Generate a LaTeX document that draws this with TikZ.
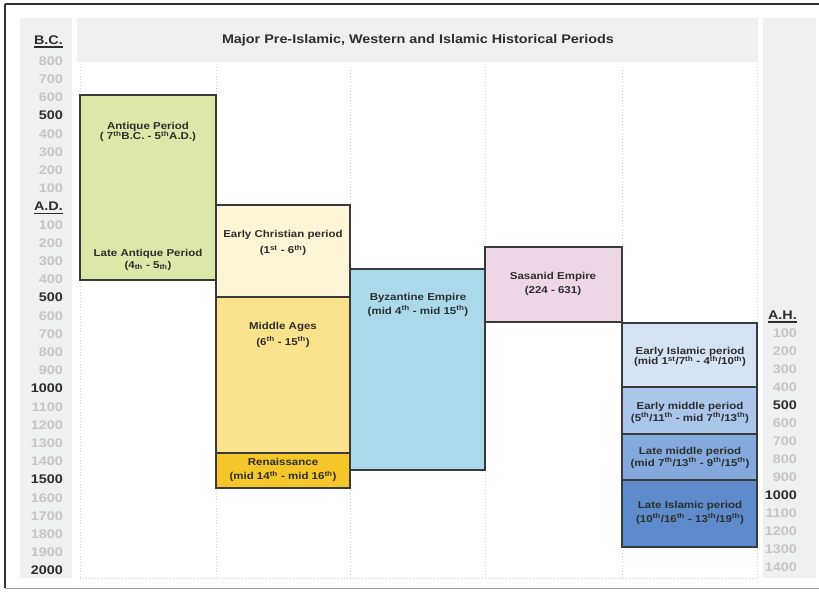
\documentclass[tikz,border=0pt]{standalone}
\usepackage{fontspec}
\setmainfont{Liberation Sans}[FakeStretch=1.15]
\definecolor{framedark}{HTML}{333333}
\definecolor{framegray}{HTML}{9A9A9A}
\definecolor{panel}{HTML}{EEF0F2}
\definecolor{guidegray}{HTML}{D2D2D2}
\definecolor{boxline}{HTML}{3A3A3A}
\definecolor{textdark}{HTML}{2E2E2E}
\definecolor{yeargray}{HTML}{C8C4C4}
\definecolor{antique}{HTML}{DCE8A8}
\definecolor{earlychr}{HTML}{FDF5D5}
\definecolor{middleage}{HTML}{FAE38C}
\definecolor{renais}{HTML}{F4C629}
\definecolor{byzant}{HTML}{AADAEA}
\definecolor{sasanid}{HTML}{EDD6E6}
\definecolor{earlyisl}{HTML}{D5E3F3}
\definecolor{earlymid}{HTML}{AAC6EA}
\definecolor{latemid}{HTML}{84A9DC}
\definecolor{lateisl}{HTML}{5E8BCB}
\tikzset{
  period/.style={draw=boxline, line width=1.4pt},
  guide/.style={guidegray, line width=0.8pt, dash pattern=on 1pt off 2pt},
  plabel/.style={font=\bfseries\fontsize{10}{11.5}\selectfont, text=textdark, align=center, inner sep=0pt},
  yearlbl/.style={font=\bfseries\fontsize{12.5}{12.5}\selectfont, text=yeargray, inner sep=0pt},
  axishead/.style={font=\bfseries\fontsize{12.5}{12.5}\selectfont, text=textdark, inner sep=0pt},
  headrule/.style={textdark, line width=1.6pt},
  titletext/.style={font=\bfseries\fontsize{12.5}{14}\selectfont, text=textdark}
}
\begin{document}
\begin{tikzpicture}[x=1pt,y=-1pt]
\useasboundingbox (0,0) rectangle (819,595);
\fill[white] (0,0) rectangle (819,595);
% frame
\draw[framedark, line width=2pt] (5,4) -- (819,4);
\draw[framedark, line width=1.5pt] (5,4) -- (5,588);
\draw[framegray, line width=1pt] (5,588) -- (819,588);
% grey panels and title
\fill[panel] (20,18) rectangle (72,578);
\fill[panel] (763,18) rectangle (816,578);
\fill[panel] (77,18) rectangle (758,62);
\node[titletext] (title) at (418,40) {Major Pre-Islamic, Western and Islamic Historical Periods};
% dotted guides
\foreach \x in {80,216,350,485,622,757}
  \draw[guide] (\x,67) -- (\x,578);
\draw[guide] (80,578) -- (757,578);

% left scale
\node[axishead, anchor=east] (bc) at (63,40) {B.C.};
\draw[headrule] ([yshift=-2.5pt]bc.south west) -- ([yshift=-2.5pt]bc.south east);
\foreach \yr [count=\i from 0] in {800,700,...,100}
  \node[yearlbl, anchor=east] (bc\yr) at (63,{61+\i*18.2}) {\ifnum\yr=500 \color{textdark}\fi\yr};
\node[axishead, anchor=east] (ad) at (63,206.6) {A.D.};
\draw[headrule] ([yshift=-2.5pt]ad.south west) -- ([yshift=-2.5pt]ad.south east);
\foreach \yr [count=\i from 9] in {100,200,...,2000}
  \node[yearlbl, anchor=east] (ad\yr) at (63,{61+\i*18.2}) {\ifnum\numexpr\yr/500*500\relax=\yr \color{textdark}\fi\yr};

% right scale
\node[axishead, anchor=east] (ah) at (797,315) {A.H.};
\draw[headrule] ([yshift=-2.5pt]ah.south west) -- ([yshift=-2.5pt]ah.south east);
\foreach \yr [count=\i from 1] in {100,200,...,1400}
  \node[yearlbl, anchor=east] (ah\yr) at (797,{315+\i*18.0}) {\ifnum\numexpr\yr/500*500\relax=\yr \color{textdark}\fi\yr};

% pre-islamic and western periods
\draw[period, fill=antique] (80,95) rectangle (216,280);
\node[plabel] (antiq) at (148,132) {Antique Period\\[-1pt]( 7\textsuperscript{th}B.C. - 5\textsuperscript{th}A.D.)};
\node[plabel] (lateantiq) at (148,260) {Late Antique Period\\(4\textsubscript{th} - 5\textsubscript{th})};
\draw[period, fill=earlychr] (216,205) rectangle (350,297);
\node[plabel] (earlychris) at (283,243) {Early Christian period\\[5pt](1\textsuperscript{st} - 6\textsuperscript{th})};
\draw[period, fill=middleage] (216,297) rectangle (350,453);
\node[plabel] (midages) at (283,335) {Middle Ages\\[4pt](6\textsuperscript{th} - 15\textsuperscript{th})};
\draw[period, fill=renais] (216,453) rectangle (350,488);
\node[plabel] (renaiss) at (283,470) {Renaissance\\[3pt](mid 14\textsuperscript{th} - mid 16\textsuperscript{th})};
\draw[period, fill=byzant] (350,269) rectangle (485,470);
\node[plabel] (byzemp) at (418,305) {Byzantine Empire\\[2pt](mid 4\textsuperscript{th} - mid 15\textsuperscript{th})};
\draw[period, fill=sasanid] (485,247) rectangle (622,322);
\node[plabel] (sasemp) at (553,284) {Sasanid Empire\\[3pt](224 - 631)};

% islamic periods
\draw[period, fill=earlyisl] (622,323) rectangle (757,387);
\node[plabel] (earlyislam) at (690,357) {Early Islamic period\\[-1pt](mid 1\textsuperscript{st}/7\textsuperscript{th} - 4\textsuperscript{th}/10\textsuperscript{th})};
\draw[period, fill=earlymid] (622,387) rectangle (757,434);
\node[plabel] (earlymiddle) at (690,413) {Early middle period\\(5\textsuperscript{th}/11\textsuperscript{th} - mid 7\textsuperscript{th}/13\textsuperscript{th})};
\draw[period, fill=latemid] (622,434) rectangle (757,480);
\node[plabel] (latemiddle) at (690,458) {Late middle period\\(mid 7\textsuperscript{th}/13\textsuperscript{th} - 9\textsuperscript{th}/15\textsuperscript{th})};
\draw[period, fill=lateisl] (622,480) rectangle (757,547);
\node[plabel] (lateislam) at (690,513) {Late Islamic period\\[2pt](10\textsuperscript{th}/16\textsuperscript{th} - 13\textsuperscript{th}/19\textsuperscript{th})};
\end{tikzpicture}
\end{document}
